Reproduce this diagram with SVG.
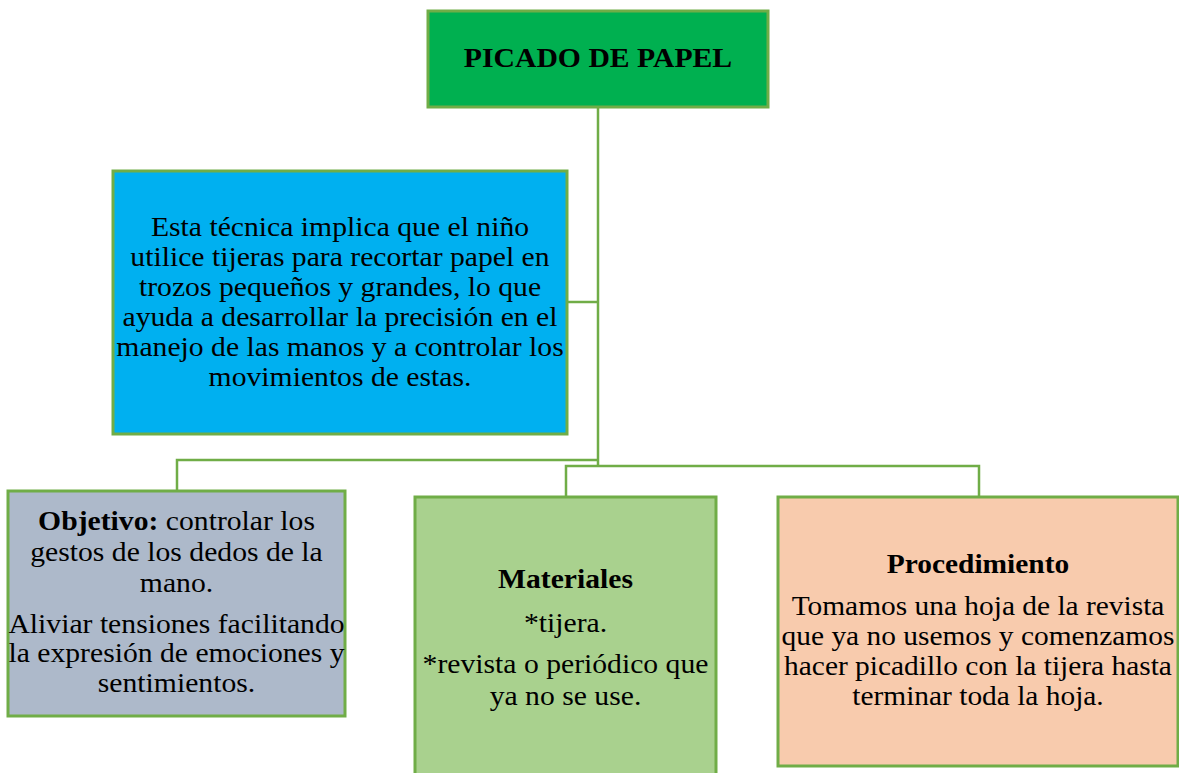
<svg xmlns="http://www.w3.org/2000/svg" width="1179" height="773" viewBox="0 0 1179 773">
<style>
.box{stroke:#70ad47;stroke-width:3}
.t{font-family:"Liberation Serif","Times New Roman",serif;font-size:26.5px;fill:#000;text-anchor:middle}
.b{font-weight:bold}
.con{fill:none;stroke:#70ad47;stroke-width:2.5}
</style>
<rect width="1179" height="773" fill="#fff"/>
<g id="connectors">
<path class="con" d="M598,107 V466"/>
<path class="con" d="M567,302 H598"/>
<path class="con" d="M177,491 V460 H598"/>
<path class="con" d="M566,497 V466 H979 V497"/>
</g>
<g id="title">
<rect class="box" x="428" y="11" width="340" height="96" fill="#00b050"/>
<g transform="translate(598,0) scale(1.08,1)">
<text class="t b" x="0" y="67" style="font-size:27.5px">PICADO DE PAPEL</text>
</g>
</g>
<g id="desc">
<rect class="box" x="113" y="171" width="454" height="263" fill="#00b0f0"/>
<g transform="translate(340,0) scale(1.12,1)">
<text class="t" x="0" y="236">Esta técnica implica que el niño</text>
<text class="t" x="0" y="266">utilice tijeras para recortar papel en</text>
<text class="t" x="0" y="296">trozos pequeños y grandes, lo que</text>
<text class="t" x="0" y="326">ayuda a desarrollar la precisión en el</text>
<text class="t" x="0" y="356">manejo de las manos y a controlar los</text>
<text class="t" x="0" y="386">movimientos de estas.</text>
</g>
</g>
<g id="objetivo">
<rect class="box" x="8" y="491" width="337" height="225" fill="#adb9ca"/>
<g transform="translate(176.5,0) scale(1.12,1)">
<text class="t" x="0" y="530"><tspan class="b">Objetivo:</tspan> controlar los</text>
<text class="t" x="0" y="561">gestos de los dedos de la</text>
<text class="t" x="0" y="592">mano.</text>
<text class="t" x="0" y="633">Aliviar tensiones facilitando</text>
<text class="t" x="0" y="662">la expresión de emociones y</text>
<text class="t" x="0" y="692">sentimientos.</text>
</g>
</g>
<g id="materiales">
<rect class="box" x="415" y="497" width="301" height="290" fill="#a9d18e"/>
<g transform="translate(565.5,0) scale(1.12,1)">
<text class="t b" x="0" y="588">Materiales</text>
<text class="t" x="0" y="632">*tijera.</text>
<text class="t" x="0" y="673">*revista o periódico que</text>
<text class="t" x="0" y="705">ya no se use.</text>
</g>
</g>
<g id="procedimiento">
<rect class="box" x="778" y="497" width="400" height="269" fill="#f8cbad"/>
<g transform="translate(978,0) scale(1.11,1)">
<text class="t b" x="0" y="573">Procedimiento</text>
<text class="t" x="0" y="615">Tomamos una hoja de la revista</text>
<text class="t" x="0" y="645">que ya no usemos y comenzamos</text>
<text class="t" x="0" y="675">hacer picadillo con la tijera hasta</text>
<text class="t" x="0" y="705">terminar toda la hoja.</text>
</g>
</g>
</svg>
